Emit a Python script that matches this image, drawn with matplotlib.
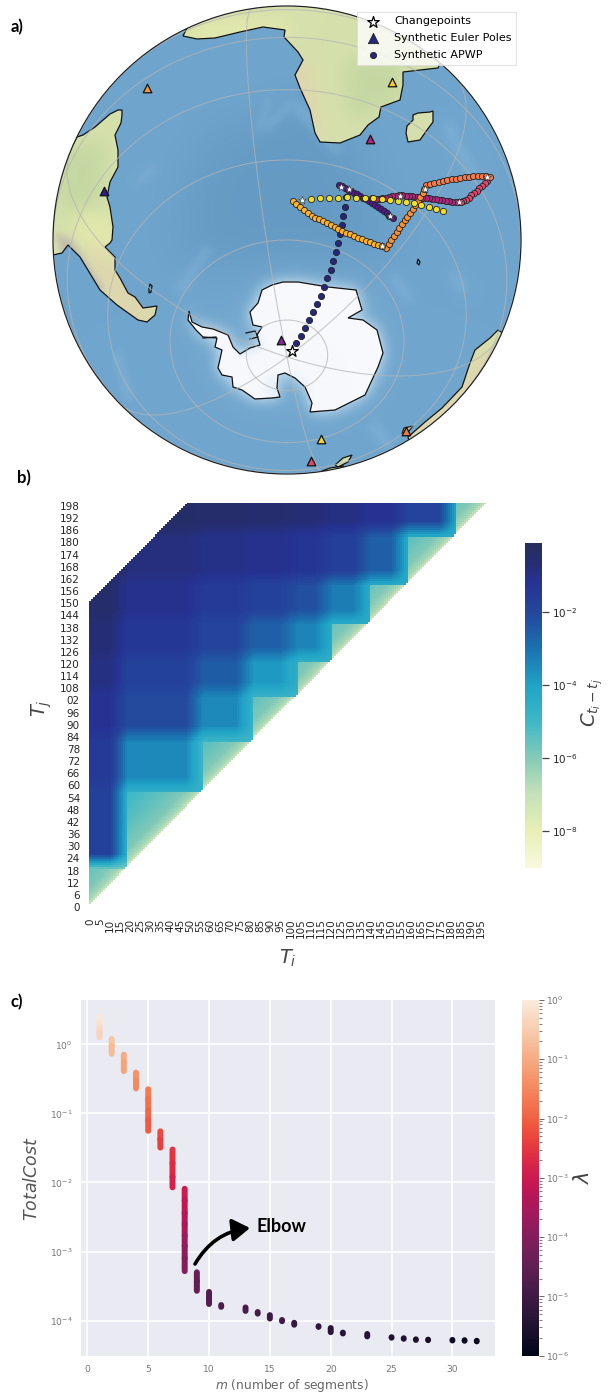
import numpy as np
import matplotlib
matplotlib.use("Agg")
import matplotlib.pyplot as plt
from matplotlib.path import Path
from matplotlib.patches import Polygon, Circle, FancyArrowPatch
from matplotlib.colors import LogNorm, LinearSegmentedColormap
from matplotlib.ticker import LogLocator, NullLocator, NullFormatter
import seaborn as sns

W, H = 608, 1395
fig = plt.figure(figsize=(W / 100, H / 100), dpi=100)
HEAD = ['Lato', 'DejaVu Sans']


def ax_px(x0, y0, x1, y1, **kw):
    return fig.add_axes([x0 / W, 1 - y1 / H, (x1 - x0) / W, (y1 - y0) / H], **kw)


# ---------------------------------------------------------------- panel a data (map pixels)
africa = [(188, 26), (183, 36), (197, 39), (215, 38), (240, 32), (263, 27), (285, 30), (284, 37), (298, 52),
          (303, 60), (295, 75), (300, 88), (310, 110), (315, 133), (320, 142), (340, 143), (360, 135),
          (368, 125), (379, 117), (381, 107), (400, 100), (403, 85), (403, 72), (420, 70), (438, 68),
          (450, 40), (400, 0), (300, -10), (200, 0)]
madagascar = [(413, 115), (418, 113), (430, 112), (433, 111), (433, 122), (427, 130), (420, 140), (408, 142),
              (406, 133), (407, 126), (413, 120)]
south_america = [(122, 110), (118, 110), (110, 114), (95, 127), (83, 135), (77, 137), (69, 152), (30, 200),
                 (30, 260), (62, 253), (68, 245), (80, 257), (100, 290), (117, 305), (138, 320), (147, 322),
                 (155, 315), (157, 306), (143, 308), (135, 297), (128, 293), (120, 278), (115, 270),
                 (115, 257), (105, 247), (110, 243), (112, 240), (113, 227), (110, 207), (107, 197),
                 (110, 182), (118, 167), (118, 150), (115, 135), (121, 123), (122, 115)]
antarctica = [(189, 311), (188, 320), (196, 330), (203, 337), (217, 338), (215, 347), (222, 350), (218, 368),
              (222, 375), (232, 377), (233, 387), (242, 390), (255, 399), (272, 398), (280, 397), (277, 388),
              (278, 375), (285, 373), (295, 378), (305, 387), (312, 403), (310, 412), (335, 410), (365, 395),
              (378, 367), (383, 353), (377, 330), (363, 320), (348, 318), (362, 310), (356, 290), (328, 287),
              (298, 282), (283, 282), (272, 285), (262, 290), (258, 303), (250, 312), (253, 325), (262, 327),
              (257, 335), (260, 345), (250, 348), (240, 354), (233, 347), (228, 335), (213, 329), (202, 327),
              (192, 322), (190, 315)]
australia = [(498, 330), (490, 338), (475, 350), (470, 363), (462, 387), (442, 408), (425, 422), (408, 437),
             (410, 446), (470, 430), (530, 350)]
nz_north = [(352, 455), (343, 458), (335, 465), (338, 467), (348, 462)]
nz_south = [(344, 466), (330, 468), (322, 471), (340, 471)]
tasmania = [(413, 426), (404, 428), (402, 434), (408, 432)]
falkland = [(150, 284), (152, 286), (151, 292), (149, 293), (149, 288)]
kerguelen = [(418, 259), (420, 262), (419, 265), (417, 263)]
coast_extra = [[(203, 338), (216, 337)], [(246, 333), (255, 331), (258, 337), (250, 339)]]

apwp_x = [296, 301, 305, 309, 313, 317, 321, 324, 327, 331, 333, 336, 338, 340, 342, 343, 345, 346]
apwp_y = [343, 336, 328, 320, 312, 304, 296, 287, 278, 270, 261, 252, 243, 234, 225, 216, 207, 197]
seg_yellow = [(93, 117), (120, 115), (147, 114), (174, 113), (201, 112), (228, 113), (254, 113), (280, 114),
              (305, 116), (330, 119), (354, 123), (378, 126), (402, 130), (424, 135), (447, 141), (468, 147),
              (490, 153)]
seg_gold = [(38, 124), (48, 133), (60, 142), (71, 150), (83, 159), (95, 167), (106, 174), (118, 178), (130, 184),
            (141, 189), (152, 196), (164, 202), (175, 208), (187, 213), (199, 218), (211, 223), (223, 228),
            (235, 233), (247, 238), (259, 243), (271, 247), (283, 251), (295, 255), (305, 258)]
seg_orange = [(318, 263), (326, 252), (334, 241), (342, 229), (350, 217), (358, 205), (366, 193), (374, 181),
              (382, 170), (390, 158), (398, 147), (406, 135), (414, 122), (421, 110), (428, 98), (433, 87)]
seg_coral = [(437, 75), (450, 72), (463, 70), (476, 67), (489, 64), (502, 61), (515, 58), (528, 56), (541, 54),
             (554, 52), (567, 50), (580, 49), (593, 48), (606, 48), (619, 48), (630, 52)]
seg_rose = [(622, 62), (614, 70), (606, 78), (598, 85), (590, 92), (582, 99), (574, 106), (566, 113), (558, 119),
            (550, 124), (542, 127)]
seg_magenta = [(537, 127), (527, 126), (517, 125), (507, 123), (497, 122), (487, 120), (477, 119), (467, 118),
               (457, 116), (447, 115), (437, 114), (427, 113), (417, 111), (407, 110), (397, 109), (387, 108),
               (377, 107), (367, 106), (357, 106), (347, 107), (337, 109), (327, 111), (317, 113), (307, 115),
               (297, 116), (287, 117), (277, 115)]
seg_purple = [(177, 75), (186, 79), (195, 84), (204, 89), (213, 94), (222, 99), (231, 103), (240, 108), (249, 113),
              (258, 118), (267, 123), (276, 129), (285, 134), (294, 140), (303, 146), (312, 153), (320, 160),
              (328, 167), (338, 173)]
change_stars = [(67, 120), (182, 82), (207, 88), (330, 167), (360, 107), (537, 127), (620, 52), (435, 87), (305, 258)]
pole_x = [104, 281, 370, 311, 406, 147, 321, 392]
pole_y = [191, 340, 139, 461, 431, 88, 439, 82]
pole_c = ['#2d1e8a', '#7b2a96', '#b5237f', '#de4968', '#ee7b45', '#f49a2c', '#f2d52a', '#f4cb2e']
first_star = (292, 351)

# ---------------------------------------------------------------- panel b data
tick_y = [str(v) for v in range(0, 102, 6)] + ['02'] + [str(v) for v in range(108, 204, 6)]
tick_y_pos = list(range(0, 204, 6))
tick_x = list(range(0, 200, 5))
changepoints = [0, 19, 57, 82, 104, 121, 140, 159, 183, 200]
log_cost = [
    [-6.0],
    [-1.8, -4.6],
    [-1.5, -3.5, -5.0],
    [-1.2, -2.1, -3.5, -4.8],
    [-0.9, -1.8, -2.5, -3.8, -4.6],
    [-0.7, -1.4, -1.9, -2.6, -3.4, -4.4],
    [-0.5, -1.1, -1.5, -1.8, -2.2, -3.2, -4.4],
    [-0.4, -0.8, -1.0, -1.1, -1.3, -1.7, -2.6, -4.4],
    [-0.3, -0.4, -0.5, -0.6, -0.7, -0.9, -1.2, -1.9, -4.2],
]
span_knots = [0, 4, 10, 20, 40]
span_log = [-7.6, -6.5, -5.9, -5.5, -4.8]
max_span = 150
bar_b_log = [-9, -8, -7, -6, -5, -4, -3, -2, -1.2, -0.6, -0.1]
bar_b_col = ['#f7f9dc', '#e9efb5', '#c5e2b8', '#85cbb6', '#3fb8c6', '#20a3c6', '#1b72b0', '#24479c', '#263394',
             '#252e70', '#252d5e']

# ---------------------------------------------------------------- panel c data
bar_m = [1, 2, 3, 4, 5, 6, 7, 8, 9, 10, 11, 13, 14, 15, 16, 17, 19, 20, 21, 23, 25, 26, 27, 28, 30, 31, 32]
bar_cost = [[2.57, 2.1, 1.75, 1.5, 1.27], [1.2, 0.95, 0.73], [0.71, 0.55, 0.41], [0.39, 0.3, 0.23],
            [0.224, 0.16, 0.11, 0.08, 0.056], [0.055, 0.042, 0.032], [0.030, 0.019, 0.012, 0.0085],
            [8.1e-3, 5.5e-3, 3.6e-3, 2.5e-3, 1.7e-3, 1.2e-3, 8e-4, 5.2e-4], [5e-4, 3.7e-4, 2.7e-4],
            [2.6e-4, 2.1e-4, 1.74e-4], [1.68e-4, 1.58e-4], [1.55e-4, 1.38e-4], [1.33e-4, 1.26e-4],
            [1.2e-4, 1.07e-4], [1.02e-4, 9.8e-5], [9.3e-5, 8.7e-5], [8.3e-5, 8.1e-5], [7.8e-5, 6.8e-5],
            [6.7e-5, 6.5e-5], [6.4e-5, 5.9e-5], [5.75e-5, 5.65e-5], [5.55e-5, 5.45e-5], [5.35e-5, 5.25e-5],
            [5.3e-5, 5.2e-5], [5.25e-5, 5.15e-5], [5.2e-5, 5.1e-5], [5.1e-5, 5e-5]]
bar_lam = [[0.9, 0.7, 0.55, 0.42, 0.3], [0.25, 0.17, 0.12], [0.1, 0.075, 0.055], [0.045, 0.035, 0.026],
           [0.021, 0.016, 0.012, 0.009, 0.007], [0.0055, 0.0042, 0.0033], [0.0028, 0.002, 0.0015, 0.0012],
           [1e-3, 7e-4, 5e-4, 3.3e-4, 2.2e-4, 1.5e-4, 1e-4, 6e-5], [4e-5, 3.2e-5, 2.6e-5],
           [2.2e-5, 1.9e-5, 1.7e-5], [1.5e-5, 1.5e-5], [1.3e-5, 1.3e-5], [1.2e-5, 1.2e-5], [1e-5, 1e-5],
           [9e-6, 9e-6], [8e-6, 8e-6], [6e-6, 6e-6], [5e-6, 5e-6], [4.5e-6, 4.5e-6], [4e-6, 4e-6], [3e-6, 3e-6],
           [2.8e-6, 2.8e-6], [2.5e-6, 2.5e-6], [2.2e-6, 2.2e-6], [1.8e-6, 1.8e-6], [1.5e-6, 1.5e-6],
           [1.2e-6, 1.2e-6]]

# ================================================================ panel a
CX, CY, R = 287.0, 240.0, 234.0
X0, X1, Y0, Y1 = 50, 524, 3, 477
ax = ax_px(X0, Y0, X1, Y1)
ax.set_xlim(X0, X1)
ax.set_ylim(Y1, Y0)
ax.axis('off')

n = 948
xs = np.linspace(X0, X1, n)
ys = np.linspace(Y0, Y1, n)
gx, gy = np.meshgrid(xs, ys)
pts = np.column_stack([gx.ravel(), gy.ravel()])


def mask(poly):
    return Path(poly).contains_points(pts).reshape(n, n).astype(float)


fx = np.fft.fftfreq(n)
fy = np.fft.fftfreq(n)
fxx, fyy = np.meshgrid(fx, fy)


def blur(a, sigma_px):
    s = sigma_px * n / (X1 - X0)
    return np.real(np.fft.ifft2(np.fft.fft2(a) * np.exp(-2 * (np.pi * s) ** 2 * (fxx ** 2 + fyy ** 2))))


def mix(img, color, amount):
    c = np.array(color, float) / 255
    return img * (1 - amount[..., None]) + c * amount[..., None]


img = np.ones((n, n, 3)) * np.array([112, 165, 205]) / 255
deep = [(200, 140), (330, 90), (400, 250), (330, 270), (240, 270), (170, 250), (190, 190)]
img = mix(img, (97, 150, 192), blur(mask(deep), 25) * 0.7)
ridges = [[(267, 95), (272, 100), (258, 135), (254, 132)], [(150, 165), (156, 170), (138, 186), (134, 182)],
          [(262, 125), (292, 98), (296, 103), (268, 132)], [(175, 290), (205, 245), (212, 250), (182, 296)],
          [(395, 270), (415, 300), (408, 305), (390, 280)], [(455, 270), (470, 290), (462, 295), (448, 275)],
          [(120, 350), (135, 400), (125, 402), (112, 355)], [(375, 420), (395, 445), (385, 450), (368, 428)],
          [(300, 100), (345, 150), (335, 155), (292, 110)], [(450, 120), (480, 175), (470, 180), (442, 125)]]
for rg in ridges:
    img = mix(img, (150, 195, 225), blur(mask(rg), 4) * 0.32)
ant_m = mask(antarctica)
img = mix(img, (225, 238, 246), np.clip(blur(ant_m, 7) * 1.35, 0, 1) * 0.85)
img = mix(img, (150, 195, 225), np.clip(blur(ant_m, 22) * 1.2, 0, 1) * 0.35)

land = np.ones((n, n, 3)) * np.array([214, 224, 172]) / 255
tan = [[(260, 70), (310, 60), (320, 145), (290, 130)], [(95, 240), (160, 325), (130, 330), (80, 250)],
       [(400, 440), (500, 340), (520, 350), (430, 450)]]
for p in tan:
    land = mix(land, (226, 211, 176), blur(mask(p), 9) * 0.9)
yel = [[(60, 200), (115, 220), (118, 260), (80, 240)], [(190, 20), (290, 20), (290, 40), (190, 45)]]
for p in yel:
    land = mix(land, (232, 236, 172), blur(mask(p), 8) * 0.7)
green = [[(345, 60), (403, 55), (400, 100), (350, 120)], [(60, 150), (105, 140), (100, 200), (60, 220)]]
for p in green:
    land = mix(land, (190, 212, 158), blur(mask(p), 10) * 0.75)
andes = [[(55, 232), (72, 240), (105, 290), (96, 292), (60, 250)]]
for p in andes:
    land = mix(land, (190, 185, 175), blur(mask(p), 3) * 0.85)
land_m = mask(africa) + mask(madagascar) + mask(south_america) + mask(australia) + mask(nz_north) + mask(nz_south) + mask(tasmania)
land_m = np.clip(land_m, 0, 1)[..., None]
img = img * (1 - land_m) + land * land_m
ice = np.ones((n, n, 3)) * np.array([247, 249, 252]) / 255
ice = mix(ice, (222, 232, 245), blur(mask([(232, 335), (258, 330), (262, 350), (238, 356)]), 4) * 0.9)
ice = mix(ice, (225, 235, 246), blur(mask([(265, 378), (305, 380), (305, 400), (268, 398)]), 6) * 0.8)
img = img * (1 - ant_m[..., None]) + ice * ant_m[..., None]
edge = np.clip((R - np.hypot(gx - CX, gy - CY)) * 2, 0, 1)
rgba = np.dstack([img, edge])
ax.imshow(rgba, extent=(X0, X1, Y1, Y0), zorder=1, interpolation='bilinear', aspect='auto')
ax.set_xlim(X0, X1)
ax.set_ylim(Y1, Y0)
clip = Circle((CX, CY), R, transform=ax.transData)

for poly in [africa, madagascar, south_america, antarctica, australia, nz_north, nz_south, tasmania, falkland, kerguelen]:
    pg = Polygon(poly, closed=True, fill=False, edgecolor='#111111', lw=0.9, zorder=3)
    ax.add_patch(pg)
    pg.set_clip_path(clip)
for ln in coast_extra:
    a = np.array(ln)
    ax.plot(a[:, 0], a[:, 1], color='#111111', lw=0.9, zorder=3)

phi0 = np.radians(-60)
lam_off = -10


def project(lat, dlon):
    la, lo = np.radians(lat), np.radians(dlon)
    vis = np.sin(phi0) * np.sin(la) + np.cos(phi0) * np.cos(la) * np.cos(lo)
    x = CX + R * np.cos(la) * np.sin(lo)
    y = CY - R * (np.cos(phi0) * np.sin(la) - np.sin(phi0) * np.cos(la) * np.cos(lo))
    x = np.where(vis > 0, x, np.nan)
    return x, y


for lat in range(-80, 80, 20):
    lo = np.linspace(-180, 180, 361)
    x, y = project(np.full_like(lo, lat), lo)
    l, = ax.plot(x, y, color='#b4b4b4', lw=0.8, alpha=0.7, zorder=4)
    l.set_clip_path(clip)
for k in range(6):
    la = np.linspace(-90, 80, 171)
    x, y = project(la, np.full_like(la, lam_off + 60 * k))
    l, = ax.plot(x, y, color='#b4b4b4', lw=0.8, alpha=0.7, zorder=4)
    l.set_clip_path(clip)
ax.add_patch(Circle((CX, CY), R, fill=False, edgecolor='#222222', lw=0.9, zorder=5))


def z10(p):
    a = np.array(p, float)
    return 280 + a[:, 0] / 3, 160 + a[:, 1] / 3


dot = dict(s=20, edgecolors='#222222', linewidths=0.6, zorder=6)
h_apwp = ax.scatter(apwp_x, apwp_y, color='#26267c', label='Synthetic APWP', **dot)
for seg, col in [(seg_purple, '#4f1a8c'), (seg_magenta, '#b3267f'), (seg_rose, '#e0486e'),
                 (seg_coral, '#f47a4c'), (seg_orange, '#f88f33'), (seg_gold, '#fbb22a'), (seg_yellow, '#f5e01f')]:
    x, y = z10(seg)
    ax.scatter(x, y, color=col, **dot)
sx, sy = z10(change_stars)
ax.scatter(sx, sy, marker='*', s=36, color='white', edgecolors='#333333', linewidths=0.4, zorder=7)
h_star = ax.scatter([first_star[0]], [first_star[1]], marker='*', s=75, color='white', edgecolors='black',
                    linewidths=0.9, zorder=7, label='Changepoints')
for px, py, c in zip(pole_x, pole_y, pole_c):
    ax.scatter([px], [py], marker='^', s=38, color=c, edgecolors='#111111', linewidths=0.9, zorder=6)
h_tri = ax.scatter([], [], marker='^', s=55, color='#26267c', edgecolors='#222222', linewidths=0.6,
                   label='Synthetic Euler Poles')
leg = ax.legend(handles=[h_star, h_tri, h_apwp], loc='upper right', fontsize=8.05, frameon=True, framealpha=0.8,
                bbox_to_anchor=((516 - X0) / (X1 - X0), 1 - (12 - Y0) / (Y1 - Y0)), borderaxespad=0,
                labelspacing=0.62, handletextpad=0.9, borderpad=0.4, fancybox=False, edgecolor='#dddddd')
leg.set_zorder(10)
leg.get_frame().set_linewidth(0.8)

# ================================================================ panel b
cp = np.array(changepoints)
N = 200
block = np.clip(np.searchsorted(cp, np.arange(N), side='right') - 1, 0, len(cp) - 2)
field = np.zeros((N, N))
for j in range(N):
    for i in range(N):
        a, b = block[i], block[j]
        field[j, i] = log_cost[b][min(a, b)]
win_row, win_col = 7, 8
smooth = np.zeros((N, N))
for j in range(N):
    for i in range(N):
        smooth[j, i] = field[max(j - win_row, 0):j + 1, i:min(i + win_col + 1, N)].mean()
for j in range(N):
    for i in range(N):
        if block[i] == block[j]:
            smooth[j, i] = np.interp(j - i, span_knots, span_log)
valid = np.zeros((N, N), bool)
for j in range(N):
    for i in range(N):
        valid[j, i] = (j - i >= 2) and (j - i <= max_span)
heat = np.ma.masked_where(~valid, 10.0 ** smooth)

axb = ax_px(89, 503, 490, 908)
vmin_b, vmax_b = 10.0 ** bar_b_log[0], 10.0 ** bar_b_log[-1]
stops = [(v - bar_b_log[0]) / (bar_b_log[-1] - bar_b_log[0]) for v in bar_b_log]
cmap_b = LinearSegmentedColormap.from_list('cost', list(zip(stops, bar_b_col)))
cmap_b.set_bad((1, 1, 1, 0))
norm_b = LogNorm(vmin=vmin_b, vmax=vmax_b)
im = axb.imshow(heat, origin='lower', extent=(0, N, 0, N), aspect='auto', cmap=cmap_b, norm=norm_b,
                interpolation='nearest')
for s in axb.spines.values():
    s.set_visible(False)
axb.set_xticks(np.array(tick_x) + 0.5)
axb.set_xticklabels([str(v) for v in tick_x], rotation=90)
axb.set_yticks(np.array(tick_y_pos) + 0.5)
axb.set_yticklabels(tick_y)
axb.tick_params(axis='both', length=0, labelsize=7.5, labelcolor='#262626')
axb.tick_params(axis='x', pad=7.5)
axb.tick_params(axis='y', pad=6.5)
fig.text(288 / W, 1 - 958 / H, r'$T_i$', fontsize=14, color='#444444', ha='center', va='center')
fig.text(42 / W, 1 - 708 / H, r'$T_j$', fontsize=14, color='#444444', ha='center', va='center', rotation=90)

cax = ax_px(525, 543, 541.7, 868)
cb = fig.colorbar(im, cax=cax)
cb.outline.set_visible(False)
cb.set_ticks([1e-8, 1e-6, 1e-4, 1e-2])
cax.yaxis.set_minor_locator(NullLocator())
cax.tick_params(axis='y', length=5, width=0.9, color='#444444', labelsize=7.5, labelcolor='#262626', pad=2.5)
fig.text(592 / W, 1 - 703 / H, r'$C_{t_i-t_j}$', fontsize=14, color='#444444', ha='center', va='center', rotation=90)

# ================================================================ panel c
axc = ax_px(81, 1000, 495, 1355.7)
axc.set_facecolor('#eaeaf2')
for s in axc.spines.values():
    s.set_visible(False)
axc.set_yscale('log')
axc.set_xlim(-0.52, 33.5)
axc.set_ylim(3.1e-5, 4.39)
axc.grid(True, which='major', color='white', lw=1.1)
axc.set_axisbelow(True)
axc.set_xticks([0, 5, 10, 15, 20, 25, 30])
axc.yaxis.set_major_locator(LogLocator(base=10, numticks=12))
axc.yaxis.set_minor_locator(NullLocator())
axc.tick_params(axis='both', which='both', length=0, labelsize=6.6, labelcolor='#777777')
axc.tick_params(axis='x', pad=7)
axc.tick_params(axis='y', pad=6)

cmap_c = sns.color_palette('rocket', as_cmap=True)
norm_c = LogNorm(vmin=1e-6, vmax=1)
for m, cs, ls in zip(bar_m, bar_cost, bar_lam):
    for k in range(len(cs) - 1):
        axc.plot([m, m], [cs[k], cs[k + 1]], color=cmap_c(norm_c(ls[k])), lw=4.3, solid_capstyle='round',
                 zorder=3, snap=False)
fig.text(292 / W, 1 - 1385 / H, r'$m$ (number of segments)', fontsize=8.8, color='#666666', ha='center', va='center')
fig.text(32 / W, 1 - 1179 / H, r'$TotalCost$', fontsize=12.5, color='#555555', ha='center', va='center', rotation=90)

cax2 = ax_px(522.3, 1000, 538.7, 1355.7)
sm = plt.cm.ScalarMappable(norm=norm_c, cmap=cmap_c)
cb2 = fig.colorbar(sm, cax=cax2)
cb2.outline.set_visible(False)
cb2.set_ticks([1e-6, 1e-5, 1e-4, 1e-3, 1e-2, 1e-1, 1])
cax2.yaxis.set_minor_locator(LogLocator(base=10, subs=np.arange(2, 10) * 0.1, numticks=10))
cax2.yaxis.set_minor_formatter(NullFormatter())
cax2.tick_params(axis='y', which='major', length=3.5, width=0.7, color='#666666', labelsize=6.6, labelcolor='#777777', pad=1.5)
cax2.tick_params(axis='y', which='minor', length=2, width=0.6, color='#666666')
fig.text(583 / W, 1 - 1177 / H, r'$\lambda$', fontsize=15, color='#444444', ha='center', va='center', rotation=90)

# ================================================================ overlay text
for lab, x, y in [('a)', 17, 27), ('b)', 24, 478), ('c)', 17, 1002)]:
    fig.text(x / W, 1 - y / H, lab, family=HEAD, fontweight='bold', fontsize=12, color='black', ha='center', va='center')
fig.text(281 / W, 1 - 1227 / H, 'Elbow', family=HEAD, fontweight='bold', fontsize=13, color='black', ha='center', va='center')
arrow = FancyArrowPatch((195 / W, 1 - 1264 / H), (250 / W, 1 - 1228 / H), transform=fig.transFigure,
                        connectionstyle='arc3,rad=-0.25', arrowstyle='-|>,head_length=7,head_width=4.5',
                        lw=2.6, color='black', shrinkA=0, shrinkB=0, mutation_scale=1.5)
fig.add_artist(arrow)

fig.savefig('out.png', dpi=100)
